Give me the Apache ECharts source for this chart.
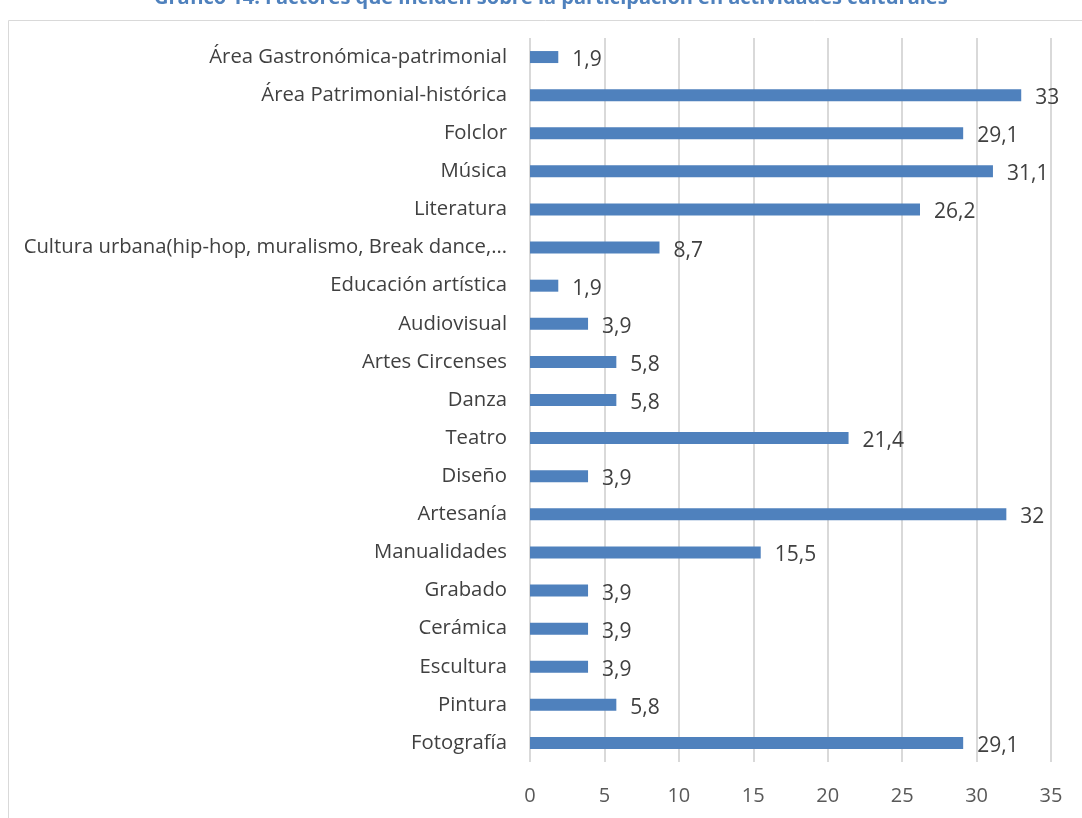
<!DOCTYPE html>
<html><head><meta charset="utf-8">
<script src="https://cdn.jsdelivr.net/npm/echarts@6/dist/echarts.min.js"></script>
<style>html,body{margin:0;padding:0;background:#fff}#c{width:1082px;height:818px}</style>
</head><body><div id="c"></div>
<script>
const titleText = "Gráfico 14. Factores que inciden sobre la participación en actividades culturales";
const categories = ["Área Gastronómica-patrimonial","Área Patrimonial-histórica","Folclor","Música","Literatura","Cultura urbana(hip-hop, muralismo, Break dance,…","Educación artística","Audiovisual","Artes Circenses","Danza","Teatro","Diseño","Artesanía","Manualidades","Grabado","Cerámica","Escultura","Pintura","Fotografía"];
const values = [1.9,33,29.1,31.1,26.2,8.7,1.9,3.9,5.8,5.8,21.4,3.9,32,15.5,3.9,3.9,3.9,5.8,29.1];
const xTicks = [0,5,10,15,20,25,30,35];
const FONT = "'Open Sans', sans-serif";
const chart = echarts.init(document.getElementById('c'));
chart.setOption({
  animation:false,
  title:{text:titleText,left:154,top:-12,padding:0,textStyle:{color:'#4f81bd',fontSize:20,fontWeight:'bold',fontFamily:FONT}},
  graphic:[{type:'rect',shape:{x:8.5,y:20.5,width:1100,height:820},style:{fill:null,stroke:'#d9d9d9',lineWidth:1},silent:true}],
  grid:{left:530,right:31,top:38,bottom:56,containLabel:false},
  xAxis:{type:'value',min:xTicks[0],max:xTicks[xTicks.length-1],interval:5,
    axisLine:{show:false},axisTick:{show:false},
    axisLabel:{color:'#595959',fontSize:20,fontFamily:FONT,margin:24},
    splitLine:{lineStyle:{color:'#d9d9d9',width:2}}},
  yAxis:{type:'category',data:categories,inverse:true,
    axisLine:{show:false},axisTick:{show:false},
    axisLabel:{color:'#404040',fontSize:20.3,fontFamily:FONT,margin:23,padding:[2,0,0,0]}},
  series:[{type:'bar',data:values,barWidth:12,itemStyle:{color:'#4f81bd'},
    label:{show:true,position:'right',distance:14,color:'#404040',fontSize:21,fontFamily:FONT,offset:[0,3],
      formatter:p=>String(p.value).replace('.',',')}}]
});
</script></body></html>
